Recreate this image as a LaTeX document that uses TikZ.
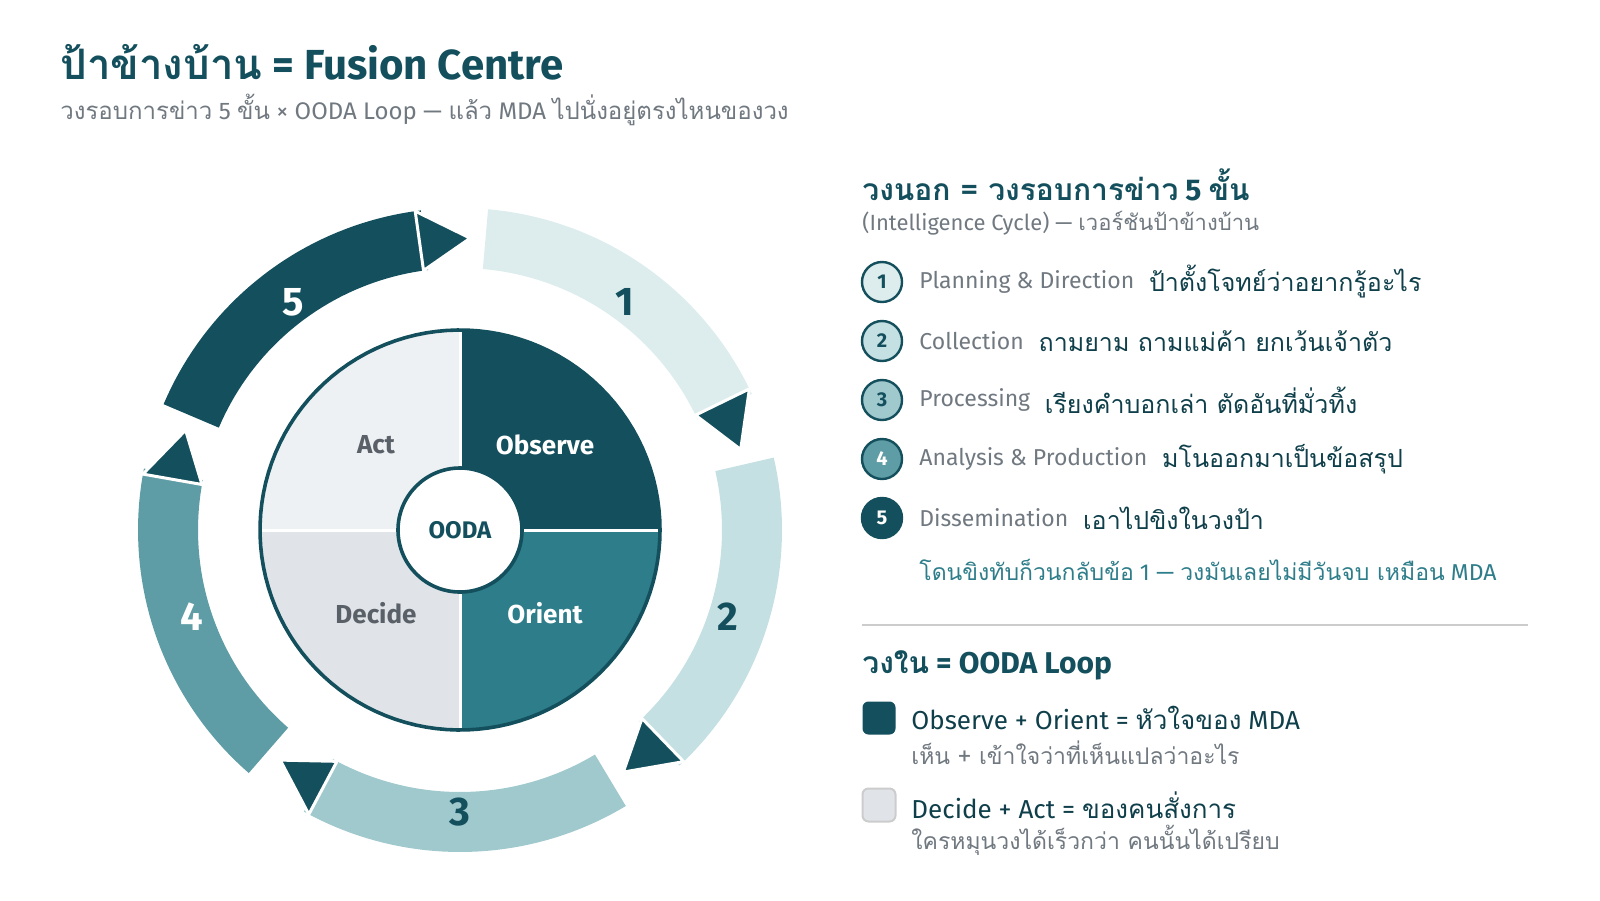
\documentclass[tikz,border=0pt]{standalone}
\usepackage{fontspec}
\setmainfont{Fira Sans}
\newfontfamily\T[Script=Thai]{Loma}
\definecolor{dk}{HTML}{134F5C}
\definecolor{c1}{HTML}{DDEDED}
\definecolor{c2}{HTML}{C5E0E2}
\definecolor{c3}{HTML}{A0C9CE}
\definecolor{c4}{HTML}{5E9DA5}
\definecolor{or}{HTML}{2E7D8A}
\definecolor{dc}{HTML}{E0E4E8}
\definecolor{ac}{HTML}{EEF1F4}
\definecolor{gr}{HTML}{707880}
\begin{document}
\begin{tikzpicture}[x=0.5pt,y=-0.5pt,
  lbl/.style={anchor=west,inner sep=0},
  num/.style={font=\bfseries\fontsize{20}{24}\selectfont},
  quad/.style={font=\bfseries\fontsize{13}{15}\selectfont},
  bub/.style={circle,draw=dk,line width=1.2pt,minimum size=20pt,inner sep=0,font=\bfseries\fontsize{10}{12}\selectfont}]
\useasboundingbox (0,0) rectangle (1600,900);
\node[lbl,text=dk,font=\bfseries\fontsize{21}{25}\selectfont] (title) at (60,62) {{\T ป้าข้างบ้าน} = Fusion Centre};
\node[lbl,text=gr,font=\fontsize{12}{14}\selectfont] (sub) at (60,110) {{\T วงรอบการข่าว} 5 {\T ขั้น} × OODA Loop — {\T แล้ว} MDA {\T ไปนั่งอยู่ตรงไหนของวง}};
\begin{scope}[shift={(460,530)},yscale=-1]
 \foreach \k/\c in {1/c1,2/c2,3/c3,4/c4,5/dk}{
   \pgfmathsetmacro\s{85-72*(\k-1)}
   \pgfmathsetmacro\e{\s-60}
   \pgfmathsetmacro\t{\s-69}
   \fill[\c] plot[domain=\s:\e,samples=40] (\x:262) -- plot[domain=\e:\s,samples=40] (\x:322) -- cycle;
   \fill[dk,draw=white,line width=1.5pt] (\e+1:262) -- (\e+1:322) -- (\t:292) -- cycle;
 }
 \fill[ac] (0,0) -- plot[domain=90:180,samples=40] (\x:200) -- cycle;
 \fill[dk] (0,0) -- plot[domain=0:90,samples=40] (\x:200) -- cycle;
 \fill[dc] (0,0) -- plot[domain=180:270,samples=40] (\x:200) -- cycle;
 \fill[or] (0,0) -- plot[domain=270:360,samples=40] (\x:200) -- cycle;
 \draw[white,line width=1.5pt] (-200,0) -- (200,0) (0,-200) -- (0,200);
 \draw[dk,line width=1.8pt] plot[domain=0:360,samples=120] (\x:200) -- cycle;
\end{scope}
\node[circle,fill=white,draw=dk,line width=1.8pt,minimum size=62pt,text=dk,font=\bfseries\fontsize{12}{14}\selectfont] (ooda) at (460,530) {OODA};
\node[quad,text=gr!80!black] (act) at (376,445) {Act};
\node[quad,text=white] (obs) at (545,445) {Observe};
\node[quad,text=gr!80!black] (dec) at (376,613) {Decide};
\node[quad,text=white] (ori) at (545,613) {Orient};
\node[num,text=dk] (n1) at (625,302) {1};
\node[num,text=dk] (n2) at (728,617) {2};
\node[num,text=dk] (n3) at (460,812) {3};
\node[num,text=white] (n4) at (192,617) {4};
\node[num,text=white] (n5) at (293,302) {5};
% right
\node[lbl,text=dk,font=\bfseries\fontsize{15}{18}\selectfont] (h1) at (862,185) {{\T วงนอก = วงรอบการข่าว} 5 {\T ขั้น}};
\node[lbl,text=gr,font=\fontsize{11}{13}\selectfont] (h1s) at (862,223) {(Intelligence Cycle) — {\T เวอร์ชันป้าข้างบ้าน}};
\foreach \i/\y/\f/\tc/\en/\th in {1/282/c1/dk/Planning \& Direction/ป้าตั้งโจทย์ว่าอยากรู้อะไร,2/341/c2/dk/Collection/ถามยาม ถามแม่ค้า ยกเว้นเจ้าตัว,3/400/c3/dk/Processing/เรียงคำบอกเล่า ตัดอันที่มั่วทิ้ง,4/459/c4/white/Analysis \& Production/มโนออกมาเป็นข้อสรุป,5/518/dk/white/Dissemination/เอาไปขิงในวงป้า}{
  \node[bub,fill=\f,text=\tc] (b\i) at (882,\y) {\i};
  \node[lbl,text=gr,font=\fontsize{11.5}{14}\selectfont] (e\i) at (919,\y) {\en};
  \node[lbl,text=dk!80!black,font=\T\fontsize{12.5}{15}\selectfont] (t\i) at ([xshift=7pt]e\i.east) {\th};
}
\node[lbl,text=or,font=\fontsize{11.5}{14}\selectfont] (note) at (919,570) {{\T โดนขิงทับก็วนกลับข้อ} 1 — {\T วงมันเลยไม่มีวันจบ เหมือน} MDA};
\draw[gray!40,line width=1pt] (862,625) -- (1528,625);
\node[lbl,text=dk,font=\bfseries\fontsize{15}{18}\selectfont] (h2) at (862,665) {{\T วงใน} = OODA Loop};
\node[fill=dk,rounded corners=3pt,minimum size=16.5pt,inner sep=0] (sq1) at (879,718) {};
\node[lbl,text=dk!80!black,font=\fontsize{13}{15}\selectfont] (l1) at (911,718) {Observe + Orient = {\T หัวใจของ} MDA};
\node[lbl,text=gr,font=\T\fontsize{11.5}{14}\selectfont] (l1s) at (911,753) {เห็น + เข้าใจว่าที่เห็นแปลว่าอะไร};
\node[fill=dc,draw=gray!40,line width=1pt,rounded corners=3pt,minimum size=16.5pt,inner sep=0] (sq2) at (879,805) {};
\node[lbl,text=dk!80!black,font=\fontsize{13}{15}\selectfont] (l2) at (911,805) {Decide + Act = {\T ของคนสั่งการ}};
\node[lbl,text=gr,font=\T\fontsize{11.5}{14}\selectfont] (l2s) at (911,840) {ใครหมุนวงได้เร็วกว่า คนนั้นได้เปรียบ};
\end{tikzpicture}
\end{document}
